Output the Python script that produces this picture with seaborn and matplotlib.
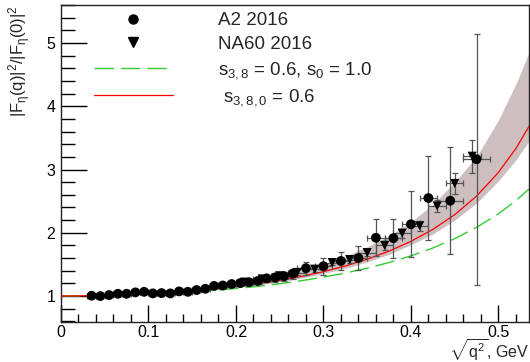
import numpy as np
import pandas as pd
import matplotlib
matplotlib.use("Agg")
import matplotlib.pyplot as plt
from matplotlib.lines import Line2D
from matplotlib.ticker import MultipleLocator
import seaborn as sns

# ---- data ----
a2_x = [0.035, 0.045, 0.055, 0.065, 0.075, 0.085, 0.095, 0.105, 0.115, 0.125,
        0.135, 0.145, 0.155, 0.165, 0.175, 0.185, 0.195, 0.205, 0.215, 0.225,
        0.235, 0.245, 0.255, 0.265, 0.28, 0.30, 0.32, 0.34, 0.36, 0.38,
        0.40, 0.42, 0.445, 0.475]
a2_y = [1.005, 1.000, 1.016, 1.036, 1.036, 1.058, 1.067, 1.042, 1.047, 1.042,
        1.074, 1.067, 1.095, 1.115, 1.160, 1.167, 1.190, 1.205, 1.218, 1.238,
        1.280, 1.295, 1.315, 1.355, 1.440, 1.471, 1.554, 1.601, 1.921, 1.915,
        2.135, 2.549, 2.507, 3.162]
a2_xerr = [0.005] * 24 + [0.01] * 8 + [0.015, 0.015]
a2_yerr = [0.012, 0.012, 0.014, 0.015, 0.016, 0.018, 0.019, 0.020, 0.022, 0.024,
           0.026, 0.028, 0.030, 0.033, 0.036, 0.040, 0.043, 0.047, 0.050, 0.055,
           0.060, 0.066, 0.072, 0.080, 0.10, 0.135, 0.15, 0.19, 0.29, 0.31,
           0.52, 0.66, 0.85, 1.98]

na60_x = [0.21, 0.23, 0.25, 0.27, 0.29, 0.31, 0.33, 0.35, 0.37, 0.39, 0.41, 0.43, 0.45, 0.47]
na60_y = [1.22, 1.27, 1.32, 1.372, 1.424, 1.529, 1.576, 1.686, 1.80, 1.994, 2.11, 2.424, 2.779, 3.209]
na60_xerr = [0.01] * 14
na60_yerr = [0.02, 0.025, 0.03, 0.035, 0.04, 0.045, 0.05, 0.06, 0.065, 0.07, 0.08, 0.10, 0.17, 0.26]

curve_x = [0.0, 0.05, 0.10, 0.15, 0.175, 0.20, 0.225, 0.25, 0.275, 0.30, 0.325, 0.35,
           0.375, 0.40, 0.425, 0.45, 0.475, 0.50, 0.52, 0.535]
red_y = [1.000, 1.008, 1.034, 1.080, 1.111, 1.149, 1.194, 1.247, 1.311, 1.386, 1.475, 1.582,
         1.710, 1.864, 2.053, 2.286, 2.579, 2.953, 3.332, 3.680]
green_y = [1.000, 1.007, 1.028, 1.064, 1.089, 1.119, 1.154, 1.195, 1.243, 1.299, 1.364, 1.441,
           1.530, 1.635, 1.759, 1.907, 2.085, 2.300, 2.507, 2.690]
band_lo = [1.000, 1.007, 1.030, 1.072, 1.100, 1.135, 1.176, 1.225, 1.285, 1.355, 1.440, 1.540,
           1.660, 1.810, 1.980, 2.200, 2.470, 2.820, 3.150, 3.450]
band_hi = [1.000, 1.010, 1.040, 1.090, 1.125, 1.170, 1.230, 1.310, 1.400, 1.510, 1.630, 1.780,
           1.950, 2.170, 2.450, 2.800, 3.200, 3.780, 4.350, 4.850]

labels = ["A2 2016", "NA60 2016", r"$s_{3,8}$ = 0.6, $s_0$ = 1.0", r" $s_{3,8,0}$ = 0.6"]

# ---- plotting ----
sns.set_theme(style="ticks")
plt.rcParams["font.family"] = ["Liberation Sans", "DejaVu Sans"]
plt.rcParams["mathtext.fontset"] = "custom"
plt.rcParams["mathtext.rm"] = "Liberation Sans"
plt.rcParams["mathtext.it"] = "Liberation Sans"
plt.rcParams["mathtext.bf"] = "Liberation Sans:bold"

fig = plt.figure(figsize=(5.30, 3.62), dpi=100)
ax = fig.add_axes([61 / 530, 40 / 362, 468 / 530, 317 / 362])

ax.fill_between(curve_x, band_lo, band_hi, color="#cdbfbf", lw=0, zorder=1)

cdf = pd.DataFrame({"x": curve_x, "red": red_y, "green": green_y})
sns.lineplot(data=cdf, x="x", y="green", ax=ax, color="#33cc33", lw=1.0,
             dashes=False, zorder=2, estimator=None, sort=False)
ax.lines[-1].set_dashes([14, 5])
sns.lineplot(data=cdf, x="x", y="red", ax=ax, color="#ff0000", lw=0.9,
             zorder=3, estimator=None, sort=False)

ax.errorbar(a2_x, a2_y, xerr=a2_xerr, yerr=a2_yerr, fmt="none", ecolor="#555555",
            elinewidth=0.9, capsize=2, capthick=0.9, zorder=4)
ax.errorbar(na60_x, na60_y, xerr=na60_xerr, yerr=na60_yerr, fmt="none", ecolor="#555555",
            elinewidth=0.9, capsize=2, capthick=0.9, zorder=4)

a2 = pd.DataFrame({"x": a2_x, "y": a2_y})
na = pd.DataFrame({"x": na60_x, "y": na60_y})
sns.scatterplot(data=a2, x="x", y="y", ax=ax, marker="o", s=50, color="black",
                edgecolor="none", zorder=5)
sns.scatterplot(data=na, x="x", y="y", ax=ax, marker="v", s=44, color="black",
                edgecolor="none", zorder=5)

ax.set_xlim(0, 0.535)
ax.set_ylim(0.59, 5.6)
ax.xaxis.set_major_locator(MultipleLocator(0.1))
ax.xaxis.set_minor_locator(MultipleLocator(0.02))
ax.yaxis.set_major_locator(MultipleLocator(1))
ax.yaxis.set_minor_locator(MultipleLocator(0.2))
ax.set_xticks([0, 0.1, 0.2, 0.3, 0.4, 0.5])
ax.set_xticklabels(["0", "0.1", "0.2", "0.3", "0.4", "0.5"])
ax.set_yticks([1, 2, 3, 4, 5])
ax.set_yticklabels(["1", "2", "3", "4", "5"])
ax.tick_params(axis="both", which="both", direction="in", labelsize=11.5,
               colors="black", width=1)
ax.tick_params(axis="x", which="major", length=12, pad=2)
ax.tick_params(axis="x", which="minor", length=6)
ax.tick_params(axis="y", which="major", length=19, pad=4)
ax.tick_params(axis="y", which="minor", length=10)
for sp in ax.spines.values():
    sp.set_visible(True)
    sp.set_color("#222222")
    sp.set_linewidth(1.0)

ax.set_xlabel(r"$\sqrt{q^{2}}$, GeV", fontsize=11.5, ha="right", va="top")
ax.xaxis.set_label_coords(1.0, -0.046)
ax.set_ylabel(r"$|F_{\eta}(q)|^{2}/|F_{\eta}(0)|^{2}$", fontsize=12, ha="right")
ax.yaxis.set_label_coords(-0.06, 1.0)

handles = [
    Line2D([], [], marker="o", ls="none", color="black", markersize=6.5),
    Line2D([], [], marker="v", ls="none", color="black", markersize=6.5),
    Line2D([], [], color="#33cc33", lw=1.0, dashes=[14, 5]),
    Line2D([], [], color="#ff0000", lw=0.9),
]
leg = ax.legend(handles, labels, loc="upper left", bbox_to_anchor=(0.07, 0.978),
                frameon=False, fontsize=13.5, handlelength=4.2, handletextpad=2.4,
                labelspacing=0.36, borderpad=0, borderaxespad=0)

fig.savefig("out.png", dpi=100)
